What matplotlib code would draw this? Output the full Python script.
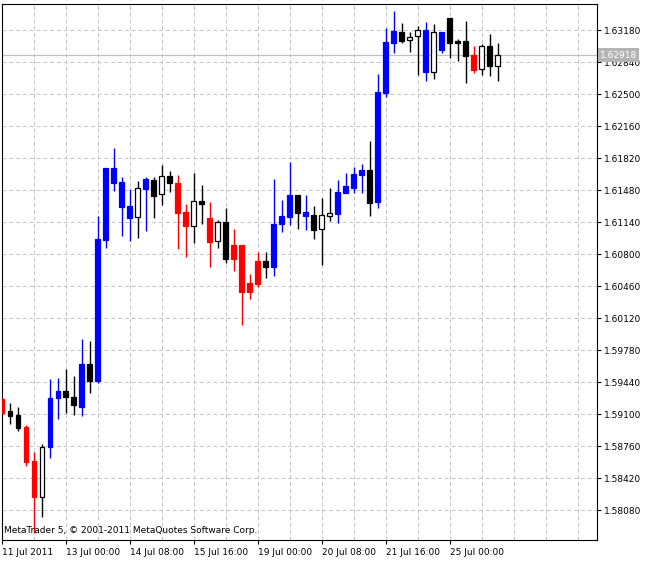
import matplotlib
matplotlib.use('Agg')
import matplotlib.pyplot as plt
import numpy as np

# H4 bars
opens = [1.59263, 1.59135, 1.59093, 1.58965, 1.58604, 1.58221, 1.58753, 1.59273,
         1.59348, 1.59284, 1.59178, 1.59635, 1.59454, 1.60952, 1.61558, 1.61303,
         1.61186, 1.61196, 1.61494, 1.61590, 1.61441, 1.61632, 1.61558, 1.61250,
         1.61101, 1.61366, 1.61186, 1.60941, 1.61143, 1.60899, 1.60899, 1.60495,
         1.60729, 1.60729, 1.60665, 1.61122, 1.61196, 1.61430, 1.61207, 1.61218,
         1.61069, 1.61207, 1.61228, 1.61451, 1.61505, 1.61643, 1.61696, 1.61356,
         1.62514, 1.63045, 1.63162, 1.63077, 1.63120, 1.62737, 1.62737, 1.62971,
         1.63311, 1.63066, 1.63066, 1.62918, 1.62769, 1.63013, 1.62801]
highs = [1.59284, 1.59220, 1.59178, 1.58986, 1.58700, 1.58785, 1.59475, 1.59486,
         1.59581, 1.59507, 1.59900, 1.59879, 1.61207, 1.61717, 1.61930, 1.61621,
         1.61494, 1.61579, 1.61621, 1.61621, 1.61749, 1.61685, 1.61643, 1.61335,
         1.61664, 1.61536, 1.61356, 1.61164, 1.61292, 1.61069, 1.60899, 1.60591,
         1.60825, 1.60825, 1.61600, 1.61377, 1.61781, 1.61430, 1.61430, 1.61313,
         1.61398, 1.61505, 1.61590, 1.61664, 1.61728, 1.61760, 1.62004, 1.62716,
         1.63205, 1.63385, 1.63258, 1.63162, 1.63226, 1.63268, 1.63247, 1.63162,
         1.63311, 1.63088, 1.63279, 1.63013, 1.63034, 1.63141, 1.63045]
lows = [1.59093, 1.58997, 1.58923, 1.58551, 1.57839, 1.58009, 1.58636, 1.59050,
        1.59114, 1.59093, 1.59082, 1.59326, 1.59433, 1.60867, 1.61473, 1.60995,
        1.60941, 1.60973, 1.61048, 1.61186, 1.61324, 1.61462, 1.60856, 1.60771,
        1.60920, 1.61122, 1.60665, 1.60867, 1.60708, 1.60623, 1.60049, 1.60325,
        1.60453, 1.60548, 1.60570, 1.61037, 1.61111, 1.61069, 1.61058, 1.60963,
        1.60686, 1.61154, 1.61133, 1.61451, 1.61451, 1.61451, 1.61207, 1.61292,
        1.62471, 1.62939, 1.63045, 1.62950, 1.62705, 1.62641, 1.62663, 1.62939,
        1.62886, 1.62854, 1.62620, 1.62726, 1.62705, 1.62694, 1.62641]
closes = [1.59114, 1.59082, 1.58955, 1.58593, 1.58221, 1.58753, 1.59273, 1.59348,
          1.59284, 1.59199, 1.59635, 1.59454, 1.60963, 1.61717, 1.61717, 1.61568,
          1.61313, 1.61505, 1.61600, 1.61420, 1.61632, 1.61558, 1.61239, 1.61101,
          1.61366, 1.61335, 1.60931, 1.61143, 1.60750, 1.60750, 1.60400, 1.60400,
          1.60485, 1.60665, 1.61122, 1.61207, 1.61430, 1.61239, 1.61250, 1.61058,
          1.61218, 1.61239, 1.61462, 1.61526, 1.61653, 1.61696, 1.61345, 1.62525,
          1.63056, 1.63173, 1.63066, 1.63109, 1.63183, 1.63183, 1.63162, 1.63162,
          1.63045, 1.63045, 1.62907, 1.62758, 1.63013, 1.62801, 1.62918]
# candle colour classes: b=blue, r=red, k=black, w=white
kinds = list("rkkrrwbbkkbkbbbbbwbkwkrrwkrwkrrrrkbbbkbkwwbbbbkbbbkwwbwbkkkrwkw")

time_labels = ['11 Jul 2011', '13 Jul 00:00', '14 Jul 08:00', '15 Jul 16:00',
               '19 Jul 00:00', '20 Jul 08:00', '21 Jul 16:00', '25 Jul 00:00']
price_ticks = [1.58080, 1.58420, 1.58760, 1.59100, 1.59440, 1.59780, 1.60120,
               1.60460, 1.60800, 1.61140, 1.61480, 1.61820, 1.62160, 1.62500,
               1.62840, 1.63180]
last_price = 1.62918

face = {'b': '#0000ff', 'r': '#ff0000', 'k': '#000000', 'w': '#ffffff'}
edge = {'b': '#0000ff', 'r': '#ff0000', 'k': '#000000', 'w': '#000000'}

fig = plt.figure(figsize=(6.5, 5.61), dpi=100)
ax = fig.add_axes([2 / 650, 21 / 561, 595 / 650, 536 / 561])

ax.set_xlim(0, 74.4)
ax.set_ylim(1.57765, 1.63460)

for x in range(0, 75, 4):
    ax.axvline(x, color='#c4c4c4', lw=0.7, ls=(0, (4, 3)), zorder=0)
for p in price_ticks:
    ax.axhline(p, color='#c4c4c4', lw=0.7, ls=(0, (4, 3)), zorder=0)

for i in range(len(opens)):
    k = kinds[i]
    ax.vlines(i, lows[i], highs[i], color=edge[k], lw=1, zorder=2)
    bottom = min(opens[i], closes[i])
    height = max(abs(closes[i] - opens[i]), 0.00003)
    ax.add_patch(plt.Rectangle((i - 0.31, bottom), 0.62, height,
                               facecolor=face[k], edgecolor=edge[k],
                               lw=0.9, zorder=3))

# last price line
ax.axhline(last_price + 0.00002, color='#c0c0c0', lw=0.8, zorder=1)
ax.axhline(last_price - 0.00002, color='#c0c0c0', lw=0.8, zorder=1)
ax.text(1.005, last_price, '%.5f' % last_price, transform=ax.get_yaxis_transform(),
        ha='left', va='center', color='white', fontsize=6.5,
        bbox=dict(boxstyle='square,pad=0.25', fc='#b4b4b4', ec='none'))

ax.yaxis.tick_right()
ax.set_yticks(price_ticks)
ax.set_yticklabels(['%.5f' % p for p in price_ticks])
ax.set_xticks(range(0, 64, 8))
ax.set_xticklabels(time_labels, ha='left')
ax.tick_params(labelsize=6.5, length=3, width=0.8, pad=2)
ax.tick_params(axis='x', pad=3)

for s in ax.spines.values():
    s.set_linewidth(0.8)

ax.text(0.003, 0.01, 'MetaTrader 5, \u00a9 2001-2011 MetaQuotes Software Corp.',
        transform=ax.transAxes, fontsize=6.5, ha='left', va='bottom', zorder=5)

fig.savefig('out.png', dpi=100)
